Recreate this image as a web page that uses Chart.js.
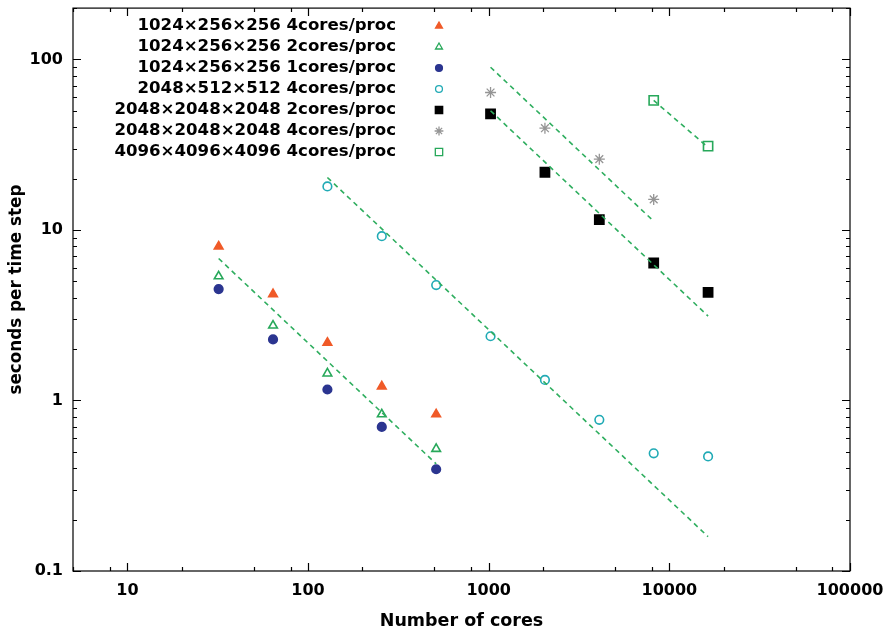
<!DOCTYPE html>
<html>
<head>
<meta charset="utf-8">
<script src="https://cdn.jsdelivr.net/npm/chart.js@4"></script>
<style>
  html, body { margin: 0; padding: 0; background: #fff; }
</style>
</head>
<body>
<canvas id="chart" width="889" height="633"></canvas>
<script>
// ---- data ----
const cores32to512 = [32, 64, 128, 256, 512];
const cores128to16k = [128, 256, 512, 1024, 2048, 4096, 8192, 16384];
const cores1kto16k = [1024, 2048, 4096, 8192, 16384];
const cores1kto8k = [1024, 2048, 4096, 8192];
const cores8kto16k = [8192, 16384];

const small4cores = [8.0, 4.2, 2.18, 1.21, 0.83];
const small2cores = [5.35, 2.75, 1.44, 0.83, 0.52];
const small1core = [4.5, 2.28, 1.16, 0.70, 0.395];
const mid4cores = [18.0, 9.2, 4.75, 2.38, 1.32, 0.77, 0.49, 0.47];
const big2cores = [48, 21.8, 11.5, 6.4, 4.3];
const big4cores = [64, 39.5, 26, 15.1];
const huge4cores = [57.5, 31];

// ideal-scaling guide lines (end points)
const fitSmallCores = [32, 512];
const fitSmallSecs = [6.8, 0.425];
const fitMidCores = [128, 16384];
const fitMidSecs = [20.3, 0.159];
const fitBig2Cores = [1024, 16384];
const fitBig2Secs = [50, 3.125];
const fitBig4Cores = [1024, 8192];
const fitBig4Secs = [90, 11.25];
const fitHugeCores = [8192, 16384];
const fitHugeSecs = [57.5, 30.5];

const xTickValues = [10, 100, 1000, 10000, 100000];
const yTickValues = [0.1, 1, 10, 100];
const xMinorSteps = [2, 5, 8];
const yMinorSteps = [2, 3, 4, 5, 6, 7, 8, 9];

const FONT = "'DejaVu Sans', Verdana, sans-serif";
const FIT_COLOR = '#2fae5f';

function pts(xs, ys) {
  return xs.map((c, i) => ({ x: c, y: ys[i] }));
}

function marker(label, xs, ys, style, color, filled, radius) {
  return {
    label: label,
    data: pts(xs, ys),
    showLine: false,
    pointStyle: style,
    pointRadius: radius,
    pointBorderWidth: style === 'star' ? 1.3 : 1.6,
    pointBorderColor: color,
    pointBackgroundColor: filled ? color : 'rgba(0,0,0,0)',
    inLegend: true
  };
}

function fit(xs, ys) {
  return {
    label: '',
    data: pts(xs, ys),
    showLine: true,
    borderColor: FIT_COLOR,
    borderWidth: 1.6,
    borderDash: [5, 4],
    pointRadius: 0,
    inLegend: false
  };
}

const datasets = [
  fit(fitSmallCores, fitSmallSecs),
  fit(fitMidCores, fitMidSecs),
  fit(fitBig2Cores, fitBig2Secs),
  fit(fitBig4Cores, fitBig4Secs),
  fit(fitHugeCores, fitHugeSecs),
  marker('1024\u00d7256\u00d7256 4cores/proc', cores32to512, small4cores, 'triangle', '#f05a28', true, 5),
  marker('1024\u00d7256\u00d7256 2cores/proc', cores32to512, small2cores, 'triangle', '#27a85a', false, 5),
  marker('1024\u00d7256\u00d7256 1cores/proc', cores32to512, small1core, 'circle', '#2b3590', true, 4.3),
  marker('2048\u00d7512\u00d7512 4cores/proc', cores128to16k, mid4cores, 'circle', '#20aab5', false, 4.3),
  marker('2048\u00d72048\u00d72048 2cores/proc', cores1kto16k, big2cores, 'rect', '#000000', true, 6.5),
  marker('2048\u00d72048\u00d72048 4cores/proc', cores1kto8k, big4cores, 'star', '#959595', false, 5.5),
  marker('4096\u00d74096\u00d74096 4cores/proc', cores8kto16k, huge4cores, 'rect', '#27a85a', false, 6.5)
];

// frame + inward ticks on all four sides
const frameTicks = {
  id: 'frameTicks',
  afterDraw(chart) {
    const { ctx, chartArea: a, scales } = chart;
    const sx = scales.x, sy = scales.y;
    ctx.save();
    ctx.strokeStyle = '#000';
    ctx.lineWidth = 1.2;
    ctx.strokeRect(a.left, a.top, a.right - a.left, a.bottom - a.top);
    ctx.beginPath();
    const xt = (v, len) => {
      if (v < sx.min || v > sx.max) return;
      const p = Math.round(sx.getPixelForValue(v)) + 0.5;
      ctx.moveTo(p, a.bottom); ctx.lineTo(p, a.bottom - len);
      ctx.moveTo(p, a.top); ctx.lineTo(p, a.top + len);
    };
    const yt = (v, len) => {
      if (v < sy.min || v > sy.max) return;
      const p = Math.round(sy.getPixelForValue(v)) + 0.5;
      ctx.moveTo(a.left, p); ctx.lineTo(a.left + len, p);
      ctx.moveTo(a.right, p); ctx.lineTo(a.right - len, p);
    };
    xTickValues.forEach(v => xt(v, 8));
    [1, 10, 100, 1000, 10000].forEach(d => xMinorSteps.forEach(m => xt(d * m, 4)));
    yTickValues.forEach(v => yt(v, 8));
    [0.1, 1, 10, 100].forEach(d => yMinorSteps.forEach(m => yt(d * m, 4)));
    ctx.stroke();
    ctx.restore();
  }
};

// key in the top-left corner, text right-aligned with the symbol on its right
const keyPlugin = {
  id: 'keyPlugin',
  afterDatasetsDraw(chart) {
    const ctx = chart.ctx;
    ctx.save();
    ctx.font = 'bold 16.6px ' + FONT;
    ctx.textAlign = 'right';
    ctx.textBaseline = 'middle';
    let row = 0;
    chart.data.datasets.forEach(ds => {
      if (!ds.inLegend) return;
      const y = 26 + row * 21;
      ctx.fillStyle = '#000';
      ctx.fillText(ds.label, 396, y);
      ctx.strokeStyle = ds.pointBorderColor;
      ctx.fillStyle = ds.pointBackgroundColor;
      ctx.lineWidth = 1.3;
      Chart.helpers.drawPoint(ctx, {
        pointStyle: ds.pointStyle,
        radius: ds.pointRadius * 0.8,
        rotation: 0,
        borderWidth: 1.3
      }, 439, y);
      row++;
    });
    ctx.restore();
  }
};

new Chart(document.getElementById('chart').getContext('2d'), {
  type: 'scatter',
  data: { datasets: datasets },
  plugins: [frameTicks, keyPlugin],
  options: {
    responsive: false,
    animation: false,
    layout: { padding: { top: 8, right: 39, left: 0, bottom: 0 } },
    plugins: {
      legend: { display: false },
      tooltip: { enabled: false }
    },
    scales: {
      x: {
        type: 'logarithmic',
        min: 5,
        max: 100000,
        afterBuildTicks: s => { s.ticks = xTickValues.map(v => ({ value: v })); },
        afterFit: s => { s.height = 62; s.paddingLeft = 0; s.paddingRight = 0; },
        grid: { display: false, drawTicks: false },
        border: { display: false },
        ticks: {
          color: '#000',
          padding: 10,
          maxRotation: 0,
          autoSkip: false,
          font: { family: FONT, size: 16, weight: 'bold' },
          callback: v => String(v)
        },
        title: {
          display: true,
          text: 'Number of cores',
          color: '#000',
          padding: { top: 0, bottom: 1 },
          font: { family: FONT, size: 17.5, weight: 'bold' }
        }
      },
      y: {
        type: 'logarithmic',
        min: 0.1,
        max: 200,
        afterBuildTicks: s => { s.ticks = yTickValues.map(v => ({ value: v })); },
        afterFit: s => { s.width = 73; s.paddingTop = 0; s.paddingBottom = 0; },
        grid: { display: false, drawTicks: false },
        border: { display: false },
        ticks: {
          color: '#000',
          padding: 10,
          autoSkip: false,
          font: { family: FONT, size: 16, weight: 'bold' },
          callback: v => String(v)
        },
        title: {
          display: true,
          text: 'seconds per time step',
          color: '#000',
          padding: { top: 7, bottom: 0 },
          font: { family: FONT, size: 16.8, weight: 'bold' }
        }
      }
    }
  }
});
</script>
</body>
</html>
